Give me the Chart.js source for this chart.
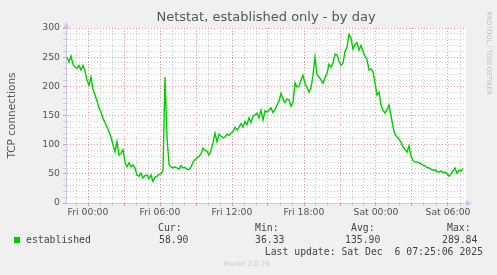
<!DOCTYPE html>
<html>
<head>
<meta charset="utf-8">
<script src="https://cdn.jsdelivr.net/npm/chart.js@4.4.0/dist/chart.umd.min.js"></script>
<style>
  html, body { margin: 0; padding: 0; background: #f0f0f0; }
  canvas { display: block; }
</style>
</head>
<body>
<canvas id="chart" width="497" height="275"></canvas>
<script>
const chartTitle = 'Netstat, established only - by day';
const yAxisTitle = 'TCP connections';
const seriesName = 'established';

// samples every 10 minutes, first one at Thu 22:15 (hours counted from Fri 00:00)
const startHour = -1.75;
const stepHours = 1 / 6;
const established = [
  250, 242, 252, 238, 233, 231, 236, 228, 236, 226,
  211, 202, 216, 195, 185, 175, 163, 156, 145, 138,
  130, 122, 113, 100, 88, 105, 82, 85, 91, 70,
  62, 69, 62, 65, 60, 48, 46, 51, 43, 47,
  48, 42, 48, 37, 44, 46, 49, 50, 56, 216,
  113, 66, 62, 60, 62, 60, 58, 64, 60, 61,
  58, 57, 62, 70, 74, 77, 80, 84, 94, 90,
  89, 82, 90, 103, 120, 105, 118, 115, 112, 113,
  118, 116, 120, 122, 130, 125, 130, 136, 130, 140,
  134, 146, 138, 149, 151, 154, 146, 159, 142, 158,
  156, 159, 163, 155, 160, 168, 175, 188, 178, 172,
  178, 177, 166, 172, 206, 199, 200, 211, 219, 205,
  198, 190, 197, 219, 250, 220, 216, 211, 205, 215,
  222, 238, 233, 240, 255, 254, 243, 236, 240, 260,
  267, 289, 283, 264, 272, 275, 262, 270, 260, 252,
  246, 228, 230, 225, 206, 185, 190, 168, 159, 154,
  160, 168, 150, 130, 118, 113, 110, 104, 96, 92,
  87, 98, 80, 73, 70, 70, 69, 67, 65, 64,
  61, 60, 58, 56, 57, 54, 53, 55, 52, 53,
  50, 46, 50, 55, 60, 51, 56, 55, 59
];

const tickHours = [0, 6, 12, 18, 24, 30];
const tickLabels = ['Fri 00:00', 'Fri 06:00', 'Fri 12:00', 'Fri 18:00', 'Sat 00:00', 'Sat 06:00'];
const yLabelValues = [0, 50, 100, 150, 200, 250, 300];

const legendHeads = ['Cur:', 'Min:', 'Avg:', 'Max:'];
const legendValues = ['58.90', '36.33', '135.90', '289.84'];
const lastUpdate = 'Last update: Sat Dec  6 07:25:06 2025';
const footer = 'Munin 2.0.76';
const sideText = 'RRDTOOL / TOBI OETIKER';

const MAJOR = 'rgb(232, 150, 150)';
const MINOR = 'rgb(205, 205, 205)';
const AXIS = '#c8c8f0';
const TEXT = '#555555';
const MONO = '"DejaVu Sans Mono", monospace';
const SANS = '"DejaVu Sans", sans-serif';

const points = established.map((v, i) => ({ x: startHour + i * stepHours, y: v }));

const gridColor = (ctx, every) => {
  if (!ctx.tick) return MINOR;
  return Math.abs(ctx.tick.value % every) < 1e-6 ? MAJOR : MINOR;
};

const muninDecor = {
  id: 'muninDecor',
  beforeDraw(chart) {
    const { ctx, chartArea: a } = chart;
    ctx.save();
    ctx.fillStyle = '#f0f0f0';
    ctx.fillRect(0, 0, chart.width, chart.height);
    ctx.fillStyle = '#ffffff';
    ctx.fillRect(a.left, a.top, a.right - a.left, a.bottom - a.top);
    ctx.restore();
  },
  afterDraw(chart) {
    const { ctx, chartArea: a } = chart;
    ctx.save();

    // title
    ctx.fillStyle = TEXT;
    ctx.font = '13px ' + SANS;
    ctx.textAlign = 'center';
    ctx.textBaseline = 'middle';
    ctx.fillText(chartTitle, (a.left + a.right) / 2, 18);

    // y axis title
    ctx.save();
    ctx.translate(12, (a.top + a.bottom) / 2);
    ctx.rotate(-Math.PI / 2);
    ctx.font = '10.5px ' + SANS;
    ctx.fillText(yAxisTitle, 0, 0);
    ctx.restore();

    // side credit
    ctx.save();
    ctx.translate(489, 53);
    ctx.rotate(Math.PI / 2);
    ctx.fillStyle = '#bbbbbb';
    ctx.font = '6.5px ' + SANS;
    ctx.fillText(sideText, 0, 0);
    ctx.restore();

    // axis arrows
    ctx.fillStyle = AXIS;
    ctx.beginPath();
    ctx.moveTo(a.left - 3, a.top);
    ctx.lineTo(a.left + 3.5, a.top);
    ctx.lineTo(a.left + 0.5, a.top - 6);
    ctx.closePath();
    ctx.fill();
    ctx.beginPath();
    ctx.moveTo(a.right, a.bottom - 3);
    ctx.lineTo(a.right, a.bottom + 3.5);
    ctx.lineTo(a.right + 6, a.bottom + 0.5);
    ctx.closePath();
    ctx.fill();

    // legend
    ctx.fillStyle = '#00cc00';
    ctx.fillRect(14, 237, 6, 6);
    ctx.fillStyle = '#444444';
    ctx.font = '9.8px ' + MONO;
    ctx.textAlign = 'left';
    ctx.fillText(seriesName, 26, 240);
    const headX = [158, 255, 351, 447];
    const valX = [159, 255, 345, 442];
    legendHeads.forEach((h, i) => ctx.fillText(h, headX[i], 228));
    legendValues.forEach((v, i) => ctx.fillText(v, valX[i], 240));
    ctx.textAlign = 'right';
    ctx.fillText(lastUpdate, 483, 252);

    ctx.textAlign = 'center';
    ctx.fillStyle = '#cccccc';
    ctx.font = '7px ' + SANS;
    ctx.fillText(footer, 247, 264);
    ctx.restore();
  }
};

new Chart(document.getElementById('chart'), {
  type: 'line',
  data: {
    datasets: [{
      label: seriesName,
      data: points,
      borderColor: '#00cc00',
      borderWidth: 1.4,
      pointRadius: 0,
      tension: 0,
      fill: false
    }]
  },
  options: {
    responsive: false,
    animation: false,
    devicePixelRatio: 1,
    layout: { padding: { top: 28, right: 31, left: 0, bottom: 0 } },
    plugins: {
      legend: { display: false },
      title: { display: false },
      tooltip: { enabled: false }
    },
    scales: {
      x: {
        type: 'linear',
        min: -22 / 12,
        max: 31.5,
        afterFit: (scale) => { scale.height = 72; },
        ticks: {
          stepSize: 1,
          autoSkip: false,
          maxRotation: 0,
          minRotation: 0,
          includeBounds: false,
          padding: 1,
          color: TEXT,
          font: { family: SANS, size: 9.3 },
          callback: (v) => {
            const k = tickHours.indexOf(v);
            return k >= 0 ? tickLabels[k] : '';
          }
        },
        grid: {
          color: (ctx) => gridColor(ctx, 3),
          tickColor: (ctx) => gridColor(ctx, 3),
          tickLength: 3,
          lineWidth: 1
        },
        border: { color: AXIS, width: 1, dash: [1, 2] }
      },
      y: {
        min: 0,
        max: 300,
        afterFit: (scale) => { scale.width = 66; },
        ticks: {
          stepSize: 10,
          autoSkip: false,
          padding: 3,
          color: TEXT,
          font: { family: SANS, size: 9.3 },
          callback: (v) => (yLabelValues.includes(v) ? String(v) : '')
        },
        grid: {
          color: (ctx) => gridColor(ctx, 50),
          tickColor: (ctx) => gridColor(ctx, 50),
          tickLength: 3,
          lineWidth: 1
        },
        border: { color: AXIS, width: 1, dash: [1, 2] }
      }
    }
  },
  plugins: [muninDecor]
});
</script>
</body>
</html>
